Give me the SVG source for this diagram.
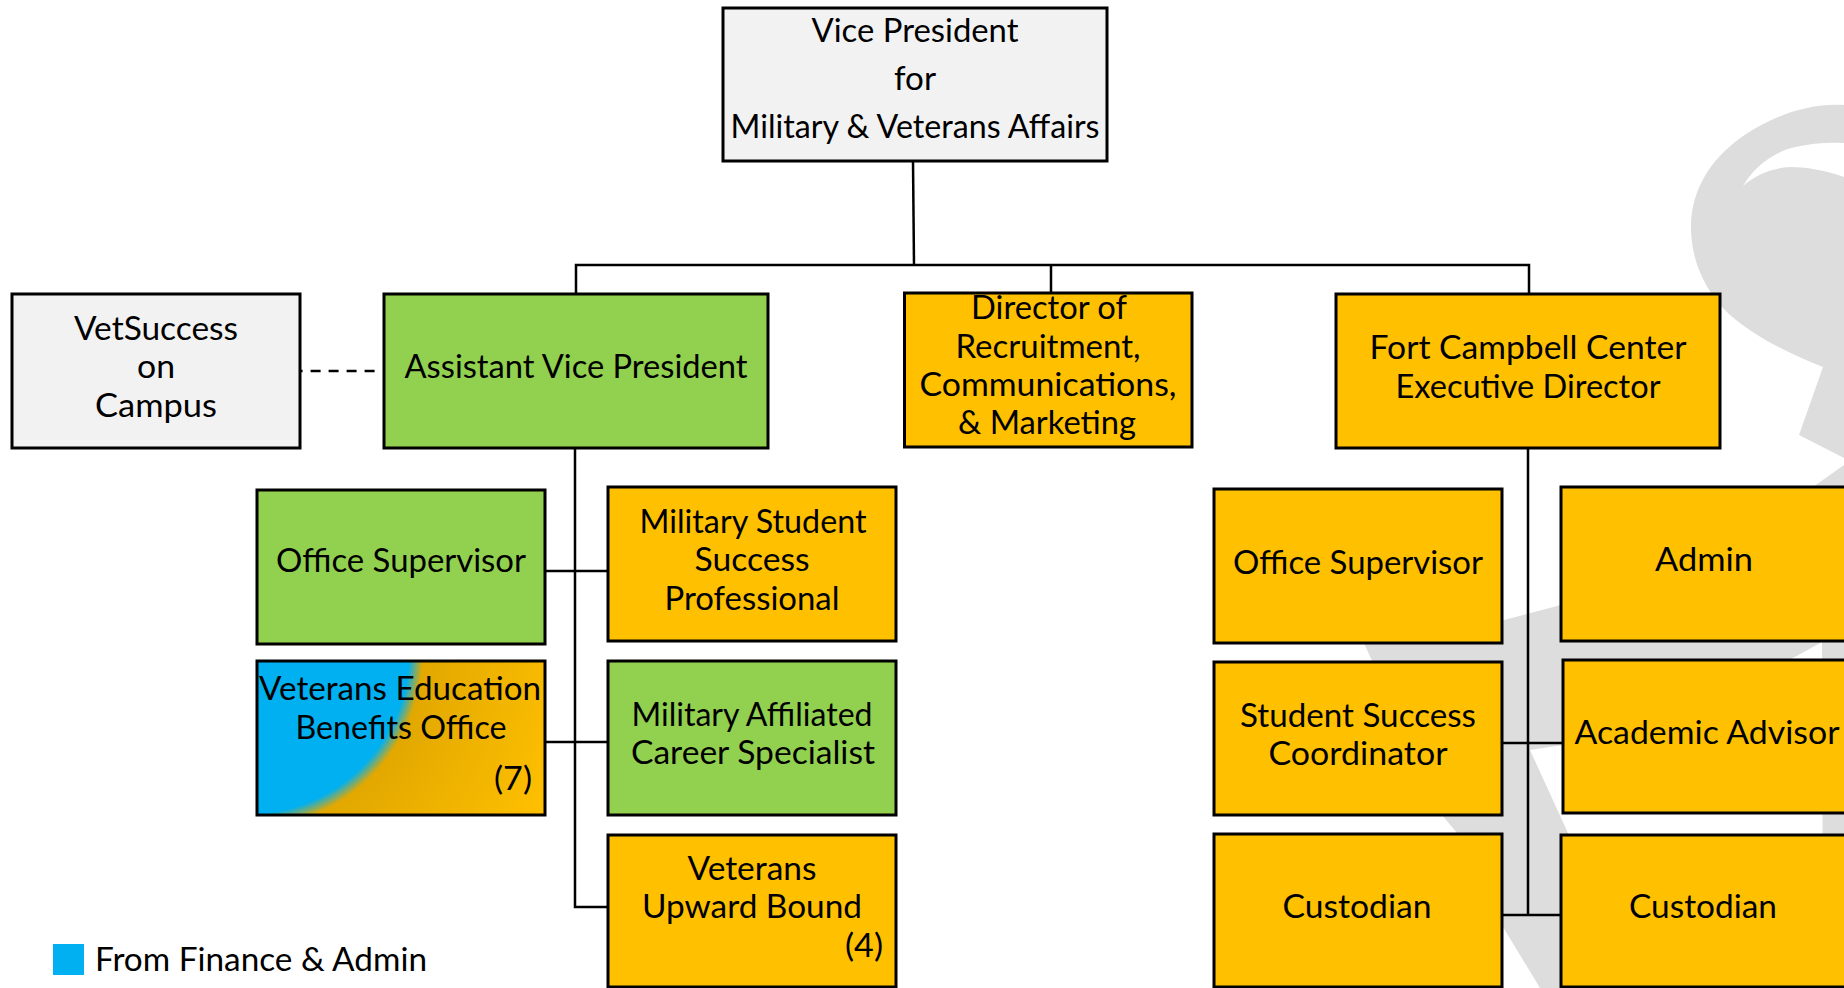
<svg xmlns="http://www.w3.org/2000/svg" width="1844" height="988" viewBox="0 0 1844 988">
<style>
.box{stroke:#000;stroke-width:3}
.g{fill:#F2F2F2}.l{fill:#92D050}.o{fill:#FFC000}
text{font-family:"Lato","Liberation Sans",sans-serif;font-size:32px;fill:#000;text-anchor:middle}
.c{fill:none;stroke:#000;stroke-width:2.5}
</style>
<defs>
<radialGradient id="vebo" gradientUnits="userSpaceOnUse" cx="247" cy="652" r="335">
<stop offset="0" stop-color="#00B0F0"/><stop offset="0.484" stop-color="#00B0F0"/><stop offset="0.525" stop-color="#E2A800"/><stop offset="1" stop-color="#FFC000"/>
</radialGradient>
</defs>
<g id="watermark">
<path fill="#DDDDDD" d="M1844 105C1805 103 1767 118 1735 142C1706 165 1691 195 1691 227C1691 258 1703 290 1730 315C1755 337 1790 354 1823 367L1799 435L1844 458V465L1813 487L1561 605L1504 620L1355 628L1364 643L1372 661L1442 815L1457 833L1503 927L1540 988H1844Z"/>
<path fill="#FFFFFF" d="M1743 186C1753 168 1773 152 1795 147C1812 143 1830 142 1844 143V177C1825 170 1805 167 1790 167C1772 168 1755 175 1743 186Z"/>
<path fill="#FFFFFF" d="M1530 750L1563 745C1660 730 1745 685 1822 642L1823 988H1640L1568 833Z"/>
</g>
<g id="connectors">
<path class="c" d="M913 161L914 265"/>
<path class="c" d="M576 294V265H1529V294"/>
<path class="c" d="M1051 265V293"/>
<path class="c" d="M301 371H375" stroke-dasharray="10 8" stroke-dashoffset="8.4"/>
<path class="c" d="M575 448V907H608"/>
<path class="c" d="M545 571H608"/>
<path class="c" d="M545 742H608"/>
<path class="c" d="M1528 448V915"/>
<path class="c" d="M1502 743H1563"/>
<path class="c" d="M1502 915H1560"/>
</g>
<g id="vp"><rect class="box g" x="723" y="8" width="384" height="153"/>
<text x="915" y="42" textLength="207" lengthAdjust="spacingAndGlyphs">Vice President</text>
<text x="915" y="90" textLength="42" lengthAdjust="spacingAndGlyphs">for</text>
<text x="915" y="138" textLength="369" lengthAdjust="spacingAndGlyphs">Military &amp; Veterans Affairs</text></g>
<g id="vetsuccess"><rect class="box g" x="12" y="294" width="288" height="154"/>
<text x="156" y="340" textLength="164" lengthAdjust="spacingAndGlyphs">VetSuccess</text>
<text x="156" y="378" textLength="38" lengthAdjust="spacingAndGlyphs">on</text>
<text x="156" y="417" textLength="122" lengthAdjust="spacingAndGlyphs">Campus</text></g>
<g id="avp"><rect class="box l" x="384" y="294" width="384" height="154"/>
<text x="576" y="378" textLength="343" lengthAdjust="spacingAndGlyphs">Assistant Vice President</text></g>
<g id="director"><rect class="box o" x="904.500" y="293" width="287.500" height="154"/>
<text x="1049" y="319" textLength="156" lengthAdjust="spacingAndGlyphs">Director of</text>
<text x="1048" y="358" textLength="185" lengthAdjust="spacingAndGlyphs">Recruitment,</text>
<text x="1048" y="396" textLength="257" lengthAdjust="spacingAndGlyphs">Communications,</text>
<text x="1047" y="434" textLength="178" lengthAdjust="spacingAndGlyphs">&amp; Marketing</text></g>
<g id="fort"><rect class="box o" x="1336" y="294" width="384" height="154"/>
<text x="1528" y="359" textLength="317" lengthAdjust="spacingAndGlyphs">Fort Campbell Center</text>
<text x="1528" y="398" textLength="265" lengthAdjust="spacingAndGlyphs">Executive Director</text></g>
<g id="office-l"><rect class="box l" x="257" y="490" width="288" height="154"/>
<text x="401" y="572" textLength="250" lengthAdjust="spacingAndGlyphs">Office Supervisor</text></g>
<g id="mssp"><rect class="box o" x="608" y="487" width="288" height="154"/>
<text x="753" y="533" textLength="227" lengthAdjust="spacingAndGlyphs">Military Student</text>
<text x="752" y="571" textLength="115" lengthAdjust="spacingAndGlyphs">Success</text>
<text x="752" y="610" textLength="175" lengthAdjust="spacingAndGlyphs">Professional</text></g>
<g id="vebo-node"><rect class="box" fill="url(#vebo)" x="257" y="661" width="288" height="154"/>
<text x="400" y="700" textLength="282" lengthAdjust="spacingAndGlyphs">Veterans Education</text>
<text x="401" y="739" textLength="211" lengthAdjust="spacingAndGlyphs">Benefits Office</text>
<text x="513" y="790" textLength="38" lengthAdjust="spacingAndGlyphs">(7)</text></g>
<g id="macs"><rect class="box l" x="608" y="661" width="288" height="154"/>
<text x="752" y="726" textLength="241" lengthAdjust="spacingAndGlyphs">Military Affiliated</text>
<text x="753" y="764" textLength="244" lengthAdjust="spacingAndGlyphs">Career Specialist</text></g>
<g id="vub"><rect class="box o" x="608" y="835" width="288" height="152"/>
<text x="752" y="880" textLength="129" lengthAdjust="spacingAndGlyphs">Veterans</text>
<text x="752" y="918" textLength="220" lengthAdjust="spacingAndGlyphs">Upward Bound</text>
<text x="864" y="957" textLength="38" lengthAdjust="spacingAndGlyphs">(4)</text></g>
<g id="office-r"><rect class="box o" x="1214" y="489" width="288" height="154"/>
<text x="1358" y="574" textLength="250" lengthAdjust="spacingAndGlyphs">Office Supervisor</text></g>
<g id="ssc"><rect class="box o" x="1214" y="662" width="288" height="153"/>
<text x="1358" y="727" textLength="236" lengthAdjust="spacingAndGlyphs">Student Success</text>
<text x="1358" y="765" textLength="179" lengthAdjust="spacingAndGlyphs">Coordinator</text></g>
<g id="custodian-l"><rect class="box o" x="1214" y="834" width="288" height="153"/>
<text x="1357" y="918" textLength="149" lengthAdjust="spacingAndGlyphs">Custodian</text></g>
<g id="admin"><rect class="box o" x="1561" y="487" width="288" height="154"/>
<text x="1704" y="571" textLength="98" lengthAdjust="spacingAndGlyphs">Admin</text></g>
<g id="advisor"><rect class="box o" x="1563" y="660" width="288" height="153"/>
<text x="1707" y="744" textLength="265" lengthAdjust="spacingAndGlyphs">Academic Advisor</text></g>
<g id="custodian-r"><rect class="box o" x="1561" y="835" width="288" height="152"/>
<text x="1703" y="918" textLength="148" lengthAdjust="spacingAndGlyphs">Custodian</text></g>
<g id="legend"><rect x="53" y="944" width="31" height="31" fill="#00B0F0"/>
<text x="261" y="971" textLength="332" lengthAdjust="spacingAndGlyphs">From Finance &amp; Admin</text></g>
</svg>
